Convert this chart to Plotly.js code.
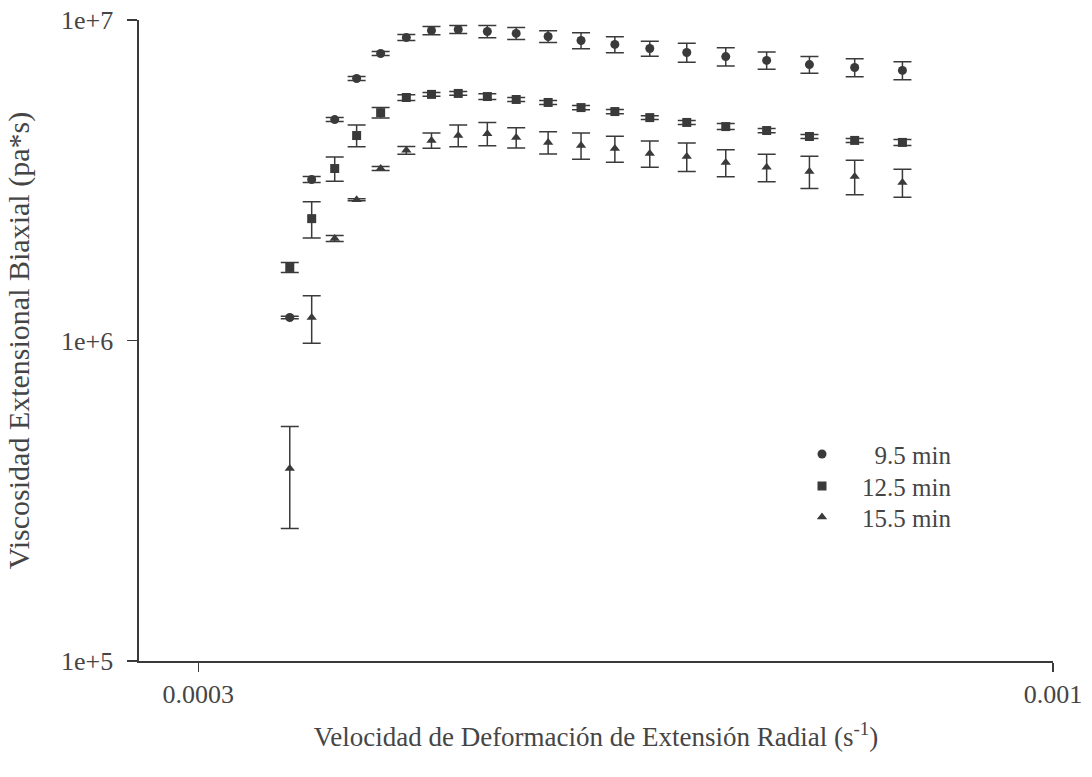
<!DOCTYPE html>
<html>
<head>
<meta charset="utf-8">
<script src="https://cdn.plot.ly/plotly-3.0.1.min.js"></script>
<style>html,body{margin:0;padding:0;background:#fff;}#chart{width:1092px;height:777px;}</style>
</head>
<body>
<div id="chart"></div>
<script>
// Strain rate (s^-1)
const strainRate = [3.413e-4, 3.52e-4, 3.636e-4, 3.75e-4, 3.879e-4, 4.022e-4, 4.167e-4, 4.327e-4, 4.508e-4, 4.695e-4,
                    4.911e-4, 5.144e-4, 5.395e-4, 5.667e-4, 5.97e-4, 6.307e-4, 6.681e-4, 7.096e-4, 7.563e-4, 8.089e-4];

// 9.5 min
const visc95 = [1.18e6, 3.18e6, 4.89e6, 6.57e6, 7.86e6, 8.82e6, 9.27e6, 9.34e6, 9.21e6, 9.08e6,
                8.88e6, 8.63e6, 8.39e6, 8.15e6, 7.92e6, 7.69e6, 7.48e6, 7.26e6, 7.11e6, 6.96e6];
const err95  = [0.01e6, 0.07e6, 0.07e6, 0.095e6, 0.11e6, 0.19e6, 0.27e6, 0.27e6, 0.40e6, 0.39e6,
                0.38e6, 0.50e6, 0.48e6, 0.44e6, 0.54e6, 0.50e6, 0.46e6, 0.44e6, 0.46e6, 0.45e6];

// 12.5 min
const visc125 = [1.69e6, 2.40e6, 3.44e6, 4.36e6, 5.14e6, 5.73e6, 5.86e6, 5.90e6, 5.77e6, 5.65e6,
                 5.53e6, 5.33e6, 5.18e6, 4.96e6, 4.79e6, 4.65e6, 4.52e6, 4.33e6, 4.21e6, 4.15e6];
const err125  = [0.06e6, 0.31e6, 0.30e6, 0.34e6, 0.19e6, 0.12e6, 0.08e6, 0.08e6, 0.12e6, 0.08e6,
                 0.08e6, 0.08e6, 0.08e6, 0.07e6, 0.07e6, 0.10e6, 0.07e6, 0.06e6, 0.06e6, 0.09e6];

// 15.5 min
const visc155 = [3.99e5, 1.18e6, 2.08e6, 2.75e6, 3.44e6, 3.92e6, 4.21e6, 4.36e6, 4.42e6, 4.30e6,
                 4.15e6, 4.06e6, 3.97e6, 3.83e6, 3.75e6, 3.59e6, 3.47e6, 3.37e6, 3.25e6, 3.11e6];
const err155  = [1.4e5, 0.20e6, 0.045e6, 0.02e6, 0.05e6, 0.11e6, 0.23e6, 0.34e6, 0.37e6, 0.31e6,
                 0.33e6, 0.38e6, 0.37e6, 0.36e6, 0.38e6, 0.35e6, 0.34e6, 0.39e6, 0.40e6, 0.31e6];

const seriesNames = ['\u00a0\u00a09.5 min', '12.5 min', '15.5 min'];
const xTickVals = [0.0003, 0.001];
const xTickText = ['0.0003', '0.001'];
const yTickVals = [1e5, 1e6, 1e7];
const yTickText = ['1e+5', '1e+6', '1e+7'];

const ink = '#3a3a3a';
const textInk = '#454545';
const font = 'Liberation Serif, Times New Roman, serif';

function mk(y, err, name, symbol, legendId) {
  return {
    x: strainRate, y: y, name: name, type: 'scatter', mode: 'markers',
    legend: legendId,
    marker: {symbol: symbol, size: 9, color: ink},
    error_y: {type: 'data', array: err, visible: true, color: ink, thickness: 1.5, width: 9}
  };
}

const data = [
  mk(visc95, err95, seriesNames[0], 'circle', 'legend'),
  mk(visc125, err125, seriesNames[1], 'square', 'legend2'),
  mk(visc155, err155, seriesNames[2], 'triangle-up', 'legend3')
];

function leg(y) {
  return {x: 0.7035, y: y, xanchor: 'left', yanchor: 'top', bgcolor: 'rgba(0,0,0,0)',
          font: {family: font, size: 25, color: textInk}, itemwidth: 70};
}

const layout = {
  width: 1092, height: 777,
  margin: {l: 139, r: 39, t: 20, b: 116},
  paper_bgcolor: '#fff', plot_bgcolor: '#fff',
  font: {family: font, color: textInk, size: 24},
  showlegend: true,
  legend: leg(0.3585),
  legend2: leg(0.3085),
  legend3: leg(0.2602),
  xaxis: {
    type: 'log', range: [Math.log10(2.76e-4), -3],
    tickvals: xTickVals, ticktext: xTickText,
    ticks: 'outside', ticklen: 9, tickwidth: 1.2, tickcolor: ink,
    showline: true, linecolor: ink, linewidth: 1.6,
    showgrid: false, zeroline: false,
    ticklabelstandoff: 0,
    tickfont: {family: font, size: 26, color: textInk},
    title: {text: 'Velocidad de Deformación de Extensión Radial (s<sup>-1</sup>)', font: {family: font, size: 27, color: textInk}, standoff: 19}
  },
  yaxis: {
    type: 'log', range: [5, 7],
    tickvals: yTickVals, ticktext: yTickText,
    ticks: 'outside', ticklen: 10, tickwidth: 1.2, tickcolor: ink,
    showline: true, linecolor: ink, linewidth: 1.6,
    showgrid: false, zeroline: false,
    ticklabelstandoff: 9,
    tickfont: {family: font, size: 26, color: textInk},
    title: {text: 'Viscosidad Extensional Biaxial (pa*s)', font: {family: font, size: 30, color: textInk}, standoff: 22}
  }
};

Plotly.newPlot('chart', data, layout, {displayModeBar: false, staticPlot: true});
</script>
</body>
</html>
